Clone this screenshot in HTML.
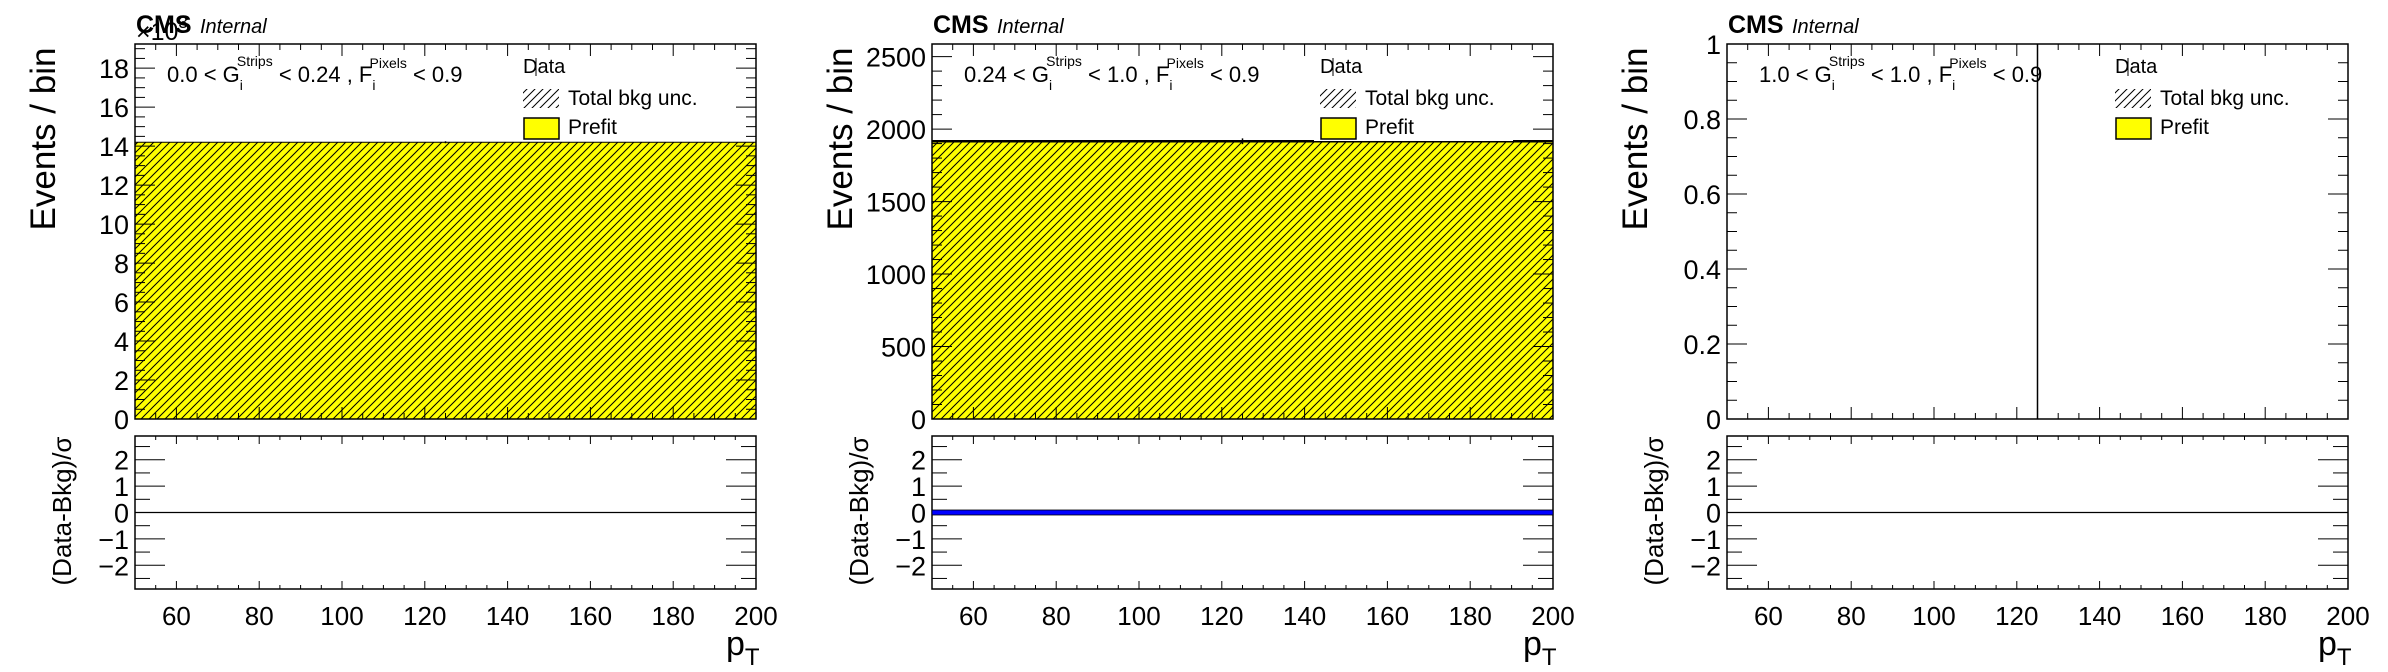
<!DOCTYPE html>
<html><head><meta charset="utf-8">
<style>
html,body{margin:0;padding:0;background:#fff;}
svg{display:block;font-family:"Liberation Sans",Arial,sans-serif;}
</style></head>
<body>
<svg id="fig" width="2388" height="672" viewBox="0 0 2388 672" xmlns="http://www.w3.org/2000/svg">
<defs>
<pattern id="hatch" patternUnits="userSpaceOnUse" width="8" height="8">
<path d="M-2,10 L10,-2 M-2,2 L2,-2 M6,10 L10,6" stroke="#000" stroke-width="1"/>
</pattern>
</defs>
</svg>
<script>
const panelLefts = [135, 932, 1727];
const panelWidth = 621;
const xMin = 50, xMax = 200;
const xMajorTicks = [60, 80, 100, 120, 140, 160, 180, 200];
const binEdges = [50, 200];
const bkgValues = [14.2, 1916, 0];
const dataX = [125, 125, 125];
const dataValues = [14.2, 1916, 0];
const dataErrLo = [0.05, 20, 0];
const dataErrHi = [0.05, 20, 5];
const yMaxes = [19.24, 2587, 1];
const yMajorStep = [2, 500, 0.2];
const yMinorStep = [0.5, 100, 0.05];
const yTickLabels = [
  ["0","2","4","6","8","10","12","14","16","18"],
  ["0","500","1000","1500","2000","2500"],
  ["0","0.2","0.4","0.6","0.8","1"]
];
const cutLo = ["0.0", "0.24", "1.0"];
const cutHi = ["0.24", "1.0", "1.0"];
const pullValues = [0, 0, 0];
const pullBlue = [false, true, false];
const ratioTicks = [-2, -1, 0, 1, 2];
const ratioTickLabels = ["\u22122", "\u22121", "0", "1", "2"];

const NS = "http://www.w3.org/2000/svg";
const svg = document.getElementById('fig');
const mainTop = 44, mainBot = 419, ratTop = 436, ratBot = 589;
const rMin = -2.9, rMax = 2.9;

function mk(tag, attrs, parent) {
  const e = document.createElementNS(NS, tag);
  for (const k in attrs) e.setAttribute(k, attrs[k]);
  (parent || svg).appendChild(e);
  return e;
}
function txt(str, attrs, parent) {
  const e = mk('text', attrs, parent);
  e.textContent = str;
  return e;
}

panelLefts.forEach((L, p) => {
  const g = mk('g', {});
  
  
  const R = L + panelWidth;
  const xs = v => L + (v - xMin) / (xMax - xMin) * panelWidth;
  const ys = v => mainBot - v / yMaxes[p] * (mainBot - mainTop);
  const yr = v => ratBot - (v - rMin) / (rMax - rMin) * (ratBot - ratTop);

  // background stack fill
  for (let i = 0; i < binEdges.length - 1; i++) {
    if (bkgValues[p] > 0) {
      const x0 = xs(binEdges[i]), x1 = xs(binEdges[i + 1]), yt = ys(bkgValues[p]);
      const f = mk('rect', {x: x0, y: yt, width: x1 - x0, height: mainBot - yt, fill: '#ffff00'}, g);
      
      
      const h = mk('rect', {x: x0, y: yt, width: x1 - x0, height: mainBot - yt, fill: 'url(#hatch)'}, g);
      
      
      const tl = mk('line', {x1: x0, x2: x1, y1: yt, y2: yt, stroke: '#000', 'stroke-width': p === 1 ? 2.5 : 1}, g);
      
      
    }
  }
  // data point error bar
  const dx = xs(dataX[p]);
  const eb = mk('line', {x1: dx, x2: dx, y1: Math.max(mainTop, ys(dataValues[p] + dataErrHi[p])), y2: Math.min(mainBot, ys(dataValues[p] - dataErrLo[p])), stroke: '#000', 'stroke-width': 1.5}, g);
  
  

  // legend
  const lg = mk('g', {}, g);
  
  
  if (bkgValues[p] > 0) mk('rect', {x: L + 382, y: mainTop + 1, width: 199, height: 96, fill: '#fff'}, lg);
  const ld = txt('Data', {x: L + 388, y: 73, 'font-size': 20}, lg);
  
  
  mk('line', {x1: L + 401, x2: L + 401, y1: 58, y2: 76, stroke: '#000', 'stroke-width': 1}, lg);
  const hb = mk('rect', {x: L + 388, y: 89, width: 36, height: 19, fill: 'url(#hatch)'}, lg);
  
  
  const lt = txt('Total bkg unc.', {x: L + 433, y: 105, 'font-size': 21}, lg);
  
  
  const pb = mk('rect', {x: L + 389, y: 118, width: 35, height: 21, fill: '#ffff00', stroke: '#000', 'stroke-width': 1.5}, lg);
  
  
  const lp = txt('Prefit', {x: L + 433, y: 134, 'font-size': 21}, lg);
  
  

  // region label
  const rl = txt('', {x: L + 32, y: 82, 'font-size': 22}, g);
  
  
  const parts = [[cutLo[p] + ' < G', 0, 22], ['i', 8, 14], ['Strips', -24, 14], [' < ' + cutHi[p] + ' , F', 16, 22], ['i', 8, 14], ['Pixels', -22, 14], [' < 0.9', 14, 22]];
  let prevX = null;
  parts.forEach((pt, i) => {
    const ts = mk('tspan', {'font-size': pt[2]}, rl);
    ts.textContent = pt[0];
    if (i === 2 || i === 5) { ts.setAttribute('dx', -6); }
    ts.setAttribute('dy', pt[1]);
  });

  // frames
  const fr = mk('rect', {x: L, y: mainTop, width: panelWidth, height: mainBot - mainTop, fill: 'none', stroke: '#000', 'stroke-width': 1.5}, g);
  
  
  const rf = mk('rect', {x: L, y: ratTop, width: panelWidth, height: ratBot - ratTop, fill: 'none', stroke: '#000', 'stroke-width': 1.5}, g);
  
  

  // x ticks
  for (let v = xMin; v <= xMax; v += 5) {
    const major = v % 20 === 0;
    const x = xs(v);
    const lm = major ? 12 : 6, lr = major ? 8 : 4;
    mk('line', {x1: x, x2: x, y1: mainBot, y2: mainBot - lm, stroke: '#000'}, g);
    mk('line', {x1: x, x2: x, y1: mainTop, y2: mainTop + lm, stroke: '#000'}, g);
    mk('line', {x1: x, x2: x, y1: ratBot, y2: ratBot - lr, stroke: '#000'}, g);
    mk('line', {x1: x, x2: x, y1: ratTop, y2: ratTop + lr, stroke: '#000'}, g);
  }
  xMajorTicks.forEach(v => {
    const t = txt(String(v), {x: xs(v), y: 625, 'font-size': 26, 'text-anchor': 'middle'}, g);
    
    
  });
  const xt = txt('p', {x: R - 30, y: 655, 'font-size': 34}, g);
  
  
  const sub = mk('tspan', {'font-size': 24, dy: 10}, xt); sub.textContent = 'T';

  // y ticks main
  const nMin = Math.round(yMaxes[p] / yMinorStep[p] + 1e-9);
  for (let k = 0; k * yMinorStep[p] <= yMaxes[p] + 1e-9; k++) {
    const v = k * yMinorStep[p];
    const major = Math.abs(v / yMajorStep[p] - Math.round(v / yMajorStep[p])) < 1e-6;
    const y = ys(v), l = major ? 20 : 10;
    mk('line', {x1: L, x2: L + l, y1: y, y2: y, stroke: '#000'}, g);
    mk('line', {x1: R, x2: R - l, y1: y, y2: y, stroke: '#000'}, g);
  }
  yTickLabels[p].forEach((s, i) => {
    const t = txt(s, {x: L - 6, y: ys(i * yMajorStep[p]) + 10, 'font-size': 27, 'text-anchor': 'end'}, g);
    
    
  });
  const yt = txt('Events / bin', {transform: `translate(${L - 80},139) rotate(-90)`, 'font-size': 35, 'text-anchor': 'middle'}, g);
  
  

  // ratio ticks
  for (let v = -2.5; v <= 2.5; v += 0.5) {
    const major = Number.isInteger(v);
    const y = yr(v), l = major ? 30 : 15;
    mk('line', {x1: L, x2: L + l, y1: y, y2: y, stroke: '#000'}, g);
    mk('line', {x1: R, x2: R - l, y1: y, y2: y, stroke: '#000'}, g);
  }
  ratioTicks.forEach((v, i) => {
    const t = txt(ratioTickLabels[i], {x: L - 6, y: yr(v) + 10, 'font-size': 27, 'text-anchor': 'end'}, g);
    
    
  });
  const rt = txt('(Data-Bkg)/\u03c3', {transform: `translate(${L - 64},511) rotate(-90)`, 'font-size': 26, 'text-anchor': 'middle'}, g);
  
  
  const zl = mk('line', {x1: L, x2: R, y1: yr(0), y2: yr(0), stroke: '#000', 'stroke-width': 1.2}, g);
  
  
  if (pullBlue[p]) {
    const pl = mk('rect', {x: L, y: yr(pullValues[p]) - 2.5, width: panelWidth, height: 5, fill: '#0000ff', stroke: '#000', 'stroke-width': 0.8}, g);
    
    
  }

  // CMS header
  const cms = txt('CMS', {x: L + 1, y: 33, 'font-size': 25, 'font-weight': 'bold'}, g);
  
  
  const it = txt('Internal', {x: L + 65, y: 33, 'font-size': 20, 'font-style': 'italic'}, g);
  
  
  if (p === 0) {
    const ex = txt('\u00d710', {x: L + 1, y: 40, 'font-size': 25}, g);
    
    
    const sp = mk('tspan', {'font-size': 17, dy: -12}, ex); sp.textContent = '3';
  }
});
</script>
</body></html>
